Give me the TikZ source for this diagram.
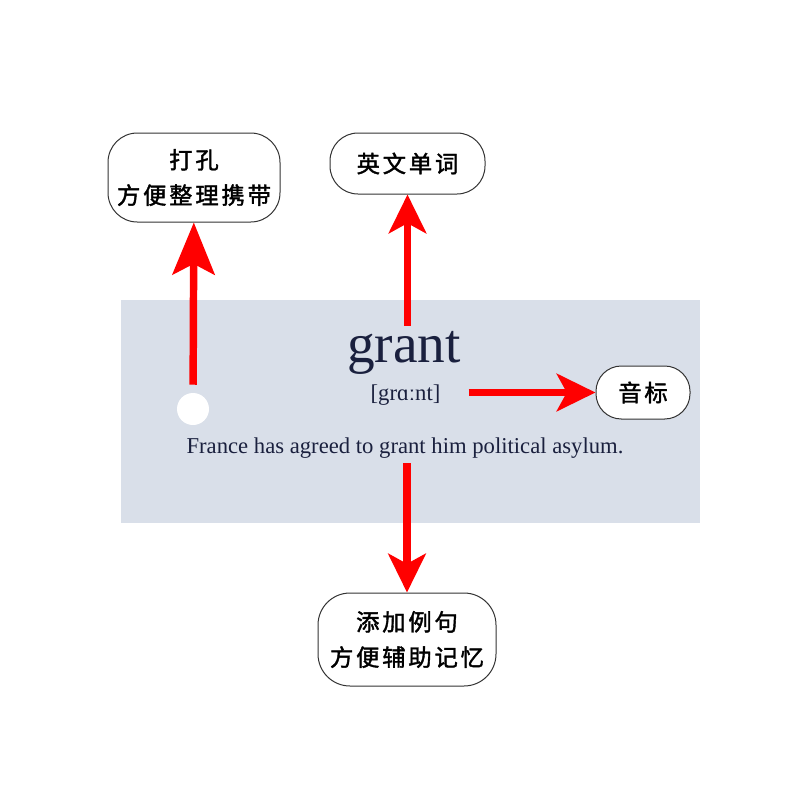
\documentclass[tikz,border=0pt]{standalone}
\usepackage{fontspec}
\setmainfont{Liberation Serif}
\newfontfamily\cjk[LetterSpace=12,FakeBold=1.6]{Noto Sans CJK SC}
\usepackage{xcolor}
\usepackage{tikz}
\usetikzlibrary{arrows.meta,positioning}
\definecolor{cardbg}{RGB}{217,223,233}
\definecolor{ink}{RGB}{26,32,62}
\tikzset{
  card/.style={rectangle,fill=cardbg,minimum width=434.25pt,minimum height=167.25pt,inner sep=0pt},
  hole/.style={circle,fill=white,minimum size=24pt,inner sep=0pt},
  word/.style={text=ink,font=\fontsize{41.5pt}{48pt}\selectfont,inner xsep=0pt,inner ysep=3.5pt},
  ipa/.style={text=ink,font=\fontsize{17pt}{20pt}\selectfont,inner sep=0pt},
  sent/.style={text=ink,font=\fontsize{17pt}{20pt}\selectfont,inner sep=0pt},
  tag/.style={rectangle,draw=black!80,line width=.75pt,fill=white,align=center,inner sep=0pt,
    font=\cjk\fontsize{17.5pt}{26.5pt}\selectfont},
  redarr/.style={line width=5.6pt,red,-{Stealth[length=29pt,width=28pt,inset=7.5pt]}},
  bigarr/.style={line width=5.6pt,red,-{Stealth[length=39pt,width=31.5pt,inset=8pt]}}
}

\begin{document}
\begin{tikzpicture}[x=0.75pt,y=-0.75pt]
  \fill[white] (0,0) rectangle (800,800);
  \useasboundingbox (0,0) rectangle (800,800);
  \node[card] (card) at (410.5,411.5) {};
  \node[hole] (hole) at (193,409) {};
  \node[word,anchor=base] (grant) at (404,362) {grant};
  \node[ipa,anchor=base] (ipa) at (405.5,400) {[grɑːnt]};
  \node[sent,anchor=base] (sent) at (405,453) {France has agreed to grant him political asylum.};
  \node[tag,minimum width=129pt,minimum height=66.75pt,rounded corners=22pt] (punch) at (194,177.5) {打孔\\方便整理携带};
  \node[tag,minimum width=116.25pt,minimum height=45.75pt,rounded corners=21pt] (head) at (407.5,163.5) {英文单词};
  \node[tag,minimum width=70.5pt,minimum height=39.75pt,rounded corners=19pt] (phon) at (643,392.5) {音标};
  \node[tag,minimum width=133.5pt,minimum height=69.75pt,rounded corners=24pt] (example) at (407,639.5) {添加例句\\方便辅助记忆};
  \draw[bigarr,shorten <=6pt] (hole) -- (punch);
  \draw[redarr] (grant.north -| head) -- (head);
  \draw[redarr,shorten <=21pt] (ipa.east |- phon) -- (phon);
  \draw[redarr,shorten <=4pt] (sent.south -| example) -- (example);
\end{tikzpicture}
\end{document}
